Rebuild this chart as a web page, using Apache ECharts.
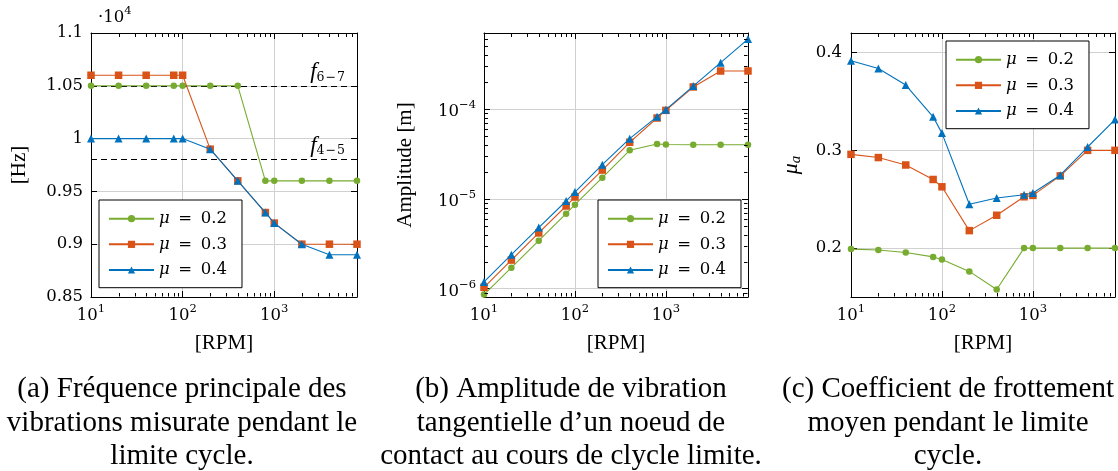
<!DOCTYPE html>
<html>
<head>
<meta charset="utf-8">
<script src="https://cdn.jsdelivr.net/npm/echarts@6/dist/echarts.min.js"></script>
<style>
  html, body { margin: 0; padding: 0; background: #ffffff; }
  #chart { width: 1118px; height: 471px; }
</style>
</head>
<body>
<div id="chart"></div>
<script>
// Rotation speeds [RPM] shared by all three panels
const rpm = [10, 20, 40, 80, 100, 200, 400, 800, 1000, 2000, 4000, 8000];
const muValues = ['0.2', '0.3', '0.4'];

// (a) main vibration frequency, in units of 1e4 Hz
const freqMu02 = [1.05, 1.05, 1.05, 1.05, 1.05, 1.05, 1.05, 0.96, 0.96, 0.96, 0.96, 0.96];
const freqMu03 = [1.06, 1.06, 1.06, 1.06, 1.06, 0.99, 0.96, 0.93, 0.92, 0.90, 0.90, 0.90];
const freqMu04 = [1.00, 1.00, 1.00, 1.00, 1.00, 0.99, 0.96, 0.93, 0.92, 0.90, 0.89, 0.89];
// reference mode frequencies (1e4 Hz) and their subscripts
const modeFreqs = [1.05, 0.98375];
const modeNames = [['6', '7'], ['4', '5']];

// (b) tangential vibration amplitude of a contact node [m]
const ampMu02 = [8.6e-7, 1.71e-6, 3.42e-6, 6.84e-6, 8.6e-6, 1.72e-5, 3.47e-5, 4.07e-5, 4.03e-5, 4.0e-5, 4.0e-5, 4.0e-5];
const ampMu03 = [1.035e-6, 2.08e-6, 4.17e-6, 8.32e-6, 1.047e-5, 2.09e-5, 4.26e-5, 7.94e-5, 9.66e-5, 1.76e-4, 2.65e-4, 2.65e-4];
const ampMu04 = [1.186e-6, 2.39e-6, 4.78e-6, 9.46e-6, 1.19e-5, 2.40e-5, 4.68e-5, 8.22e-5, 9.83e-5, 1.80e-4, 3.28e-4, 6.01e-4];

// (c) mean friction coefficient over the limit cycle
const fricMu02 = [0.199, 0.198, 0.1955, 0.191, 0.1884, 0.1762, 0.1576, 0.2, 0.2, 0.2, 0.2, 0.2];
const fricMu03 = [0.2959, 0.2926, 0.285, 0.2702, 0.2627, 0.2179, 0.2336, 0.2525, 0.2539, 0.2739, 0.3, 0.3];
const fricMu04 = [0.3916, 0.3837, 0.3668, 0.3343, 0.3176, 0.2448, 0.2512, 0.2545, 0.2563, 0.2746, 0.3034, 0.3315];

const captions = [
  ['(a) Fréquence principale des', 'vibrations misurate pendant le', 'limite cycle.'],
  ['(b) Amplitude de vibration', 'tangentielle d’un noeud de', 'contact au cours de clycle limite.'],
  ['(c) Coefficient de frottement', 'moyen pendant le limite', 'cycle.']
];

const FONT_NUM = '"DejaVu Serif", serif';
const FONT_TXT = '"Liberation Serif", "Times New Roman", serif';
const NUM_SIZE = 16.5;
const COLORS = ['#77AC30', '#D95319', '#0072BD'];
const SYMBOLS = ['circle', 'rect', 'triangle'];
const SIZES = [6.5, 7.5, 8];
const GRID_COLOR = '#d0d0d0';
const seriesNames = muValues.map(m => 'μ = ' + m);

const X_MIN = 10, X_MAX = 8000;
const grids = [
  { left: 91, top: 33, width: 266, height: 264 },
  { left: 484, top: 33, width: 264, height: 264 },
  { left: 851, top: 33, width: 265, height: 264 }
];

const supRich = {
  b: { fontFamily: FONT_NUM, fontSize: NUM_SIZE, color: '#000', lineHeight: 25 },
  sup: { fontFamily: FONT_NUM, fontSize: 11.5, color: '#000', lineHeight: 10, verticalAlign: 'top' }
};
function powLabel(v) {
  const e = Math.log10(v);
  const n = Math.round(e);
  if (Math.abs(e - n) > 1e-6) return '';
  return '{b|10}{sup|' + (n < 0 ? '−' + (-n) : String(n)) + '}';
}

const nameStyle = { fontFamily: FONT_TXT, fontSize: 21, color: '#000' };

// bottom/top x axes (log) for a grid
function xAxesFor(gi) {
  const common = {
    type: 'log', logBase: 10, min: X_MIN, max: X_MAX, gridIndex: gi,
    axisLine: { show: true, onZero: false, lineStyle: { color: '#000', width: 1 } },
    axisTick: { show: true, inside: true, length: 6, lineStyle: { color: '#000', width: 1 } },
    axisPointer: { show: false }
  };
  return [
    Object.assign({}, common, {
      position: 'bottom',
      axisLabel: { show: true, margin: 6, formatter: powLabel, rich: supRich, color: '#000' },
      splitLine: { show: true, lineStyle: { color: GRID_COLOR, width: 1 } },
      name: '[RPM]', nameLocation: 'middle', nameGap: 36,
      nameTextStyle: nameStyle
    }),
    Object.assign({}, common, {
      position: 'top',
      axisLabel: { show: false },
      splitLine: { show: false }
    })
  ];
}

function yAxesFor(gi, base) {
  const common = Object.assign({
    gridIndex: gi,
    axisLine: { show: true, onZero: false, lineStyle: { color: '#000', width: 1 } },
    axisTick: { show: true, inside: true, length: 6, lineStyle: { color: '#000', width: 1 } },
    axisPointer: { show: false }
  }, base.scale);
  return [
    Object.assign({}, common, {
      position: 'left',
      axisLabel: Object.assign({ show: true, margin: 8, color: '#000', fontFamily: FONT_NUM, fontSize: NUM_SIZE }, base.label),
      splitLine: { show: true, lineStyle: { color: GRID_COLOR, width: 1 } }
    }, base.name),
    Object.assign({}, common, {
      position: 'right',
      axisLabel: { show: false },
      splitLine: { show: false }
    })
  ];
}

const yAxisDefs = [
  {
    scale: { type: 'value', min: 0.85, max: 1.1, interval: 0.05 },
    label: { formatter: v => String(Math.round(v * 100) / 100) },
    name: { name: '[Hz]', nameLocation: 'middle', nameGap: 61, nameTextStyle: nameStyle }
  },
  {
    scale: { type: 'log', logBase: 10, min: 8.07e-7, max: 7.02e-4 },
    label: { formatter: powLabel, rich: supRich, padding: [6, 0, 0, 0] },
    name: { name: 'Amplitude [m]', nameLocation: 'middle', nameGap: 68, nameTextStyle: nameStyle }
  },
  {
    scale: { type: 'value', min: 0.15, max: 0.42, minInterval: 0.1, maxInterval: 0.1 },
    label: {
      margin: 9,
      formatter: v => (Math.abs(v * 10 - Math.round(v * 10)) < 1e-6 ? v.toFixed(1) : '')
    },
    name: {
      name: '{i|μ}{s|a}', nameLocation: 'middle', nameGap: 47,
      nameTextStyle: {
        fontFamily: FONT_TXT, fontSize: 21, color: '#000',
        rich: {
          i: { fontFamily: FONT_TXT, fontStyle: 'italic', fontSize: 22, lineHeight: 26, color: '#000' },
          s: { fontFamily: FONT_TXT, fontStyle: 'italic', fontSize: 15, lineHeight: 16, verticalAlign: 'bottom', color: '#000' }
        }
      }
    }
  }
];

const xAxis = [], yAxis = [];
grids.forEach((g, gi) => {
  xAxis.push(...xAxesFor(gi));
  yAxis.push(...yAxesFor(gi, yAxisDefs[gi]));
});

function lineSeries(gi, k, values, extra) {
  return Object.assign({
    type: 'line', name: seriesNames[k],
    xAxisIndex: gi * 2, yAxisIndex: gi * 2,
    data: rpm.map((x, i) => [x, values[i]]),
    symbol: SYMBOLS[k], symbolSize: SIZES[k], showSymbol: true,
    clip: false, animation: false, silent: true,
    lineStyle: { color: COLORS[k], width: 1.1 },
    itemStyle: { color: COLORS[k], borderWidth: 0 },
    z: 5 + k
  }, extra || {});
}

// minor log ticks (2..9 x 10^n) drawn along the plot frame
function minorValues(lo, hi) {
  const out = [];
  for (let e = Math.floor(Math.log10(lo)); e <= Math.ceil(Math.log10(hi)); e++) {
    for (let m = 2; m <= 9; m++) {
      const v = m * Math.pow(10, e);
      if (v > lo * 1.0001 && v < hi * 0.9999) out.push(v);
    }
  }
  return out;
}
function minorTickSeries(gi, yRef, yLog) {
  const xm = minorValues(X_MIN, X_MAX);
  const ym = yLog ? minorValues(yLog[0], yLog[1]) : [];
  const L = 3.5;
  return {
    type: 'custom', xAxisIndex: gi * 2, yAxisIndex: gi * 2,
    data: [[X_MIN, yRef]], silent: true, clip: false, animation: false, z: 8,
    renderItem(params, api) {
      const cs = params.coordSys;
      const top = Math.round(cs.y) + 0.5, bottom = Math.round(cs.y + cs.height) - 0.5;
      const left = Math.round(cs.x) + 0.5, right = Math.round(cs.x + cs.width) - 0.5;
      const st = { stroke: '#000', lineWidth: 1 };
      const children = [];
      xm.forEach(v => {
        const px = Math.round(api.coord([v, yRef])[0]) + 0.5;
        children.push({ type: 'line', shape: { x1: px, y1: bottom, x2: px, y2: bottom - L }, style: st });
        children.push({ type: 'line', shape: { x1: px, y1: top, x2: px, y2: top + L }, style: st });
      });
      ym.forEach(v => {
        const py = Math.round(api.coord([X_MIN, v])[1]) + 0.5;
        children.push({ type: 'line', shape: { x1: left, y1: py, x2: left + L, y2: py }, style: st });
        children.push({ type: 'line', shape: { x1: right, y1: py, x2: right - L, y2: py }, style: st });
      });
      return { type: 'group', children };
    }
  };
}

const series = [
  lineSeries(0, 0, freqMu02, {
    markLine: {
      silent: true, symbol: 'none', animation: false,
      lineStyle: { color: '#000', width: 1, type: [6, 4] },
      label: {
        show: true, position: 'insideEndTop', distance: [12, 2], color: '#000',
        rich: {
          f: { fontFamily: FONT_TXT, fontStyle: 'italic', fontSize: 23, lineHeight: 24, color: '#000' },
          s: { fontFamily: FONT_NUM, fontSize: 12.5, lineHeight: 19, verticalAlign: 'bottom', color: '#000' },
          m: { fontFamily: FONT_NUM, fontSize: 12.5, lineHeight: 19, verticalAlign: 'bottom', color: '#000', padding: [0, 1, 0, 1] }
        }
      },
      data: modeFreqs.map((v, i) => ({
        yAxis: v,
        label: { formatter: '{f|f}{s|' + modeNames[i][0] + '}{m|−}{s|' + modeNames[i][1] + '}' }
      }))
    }
  }),
  lineSeries(0, 1, freqMu03),
  lineSeries(0, 2, freqMu04),
  lineSeries(1, 0, ampMu02),
  lineSeries(1, 1, ampMu03),
  lineSeries(1, 2, ampMu04),
  lineSeries(2, 0, fricMu02),
  lineSeries(2, 1, fricMu03),
  lineSeries(2, 2, fricMu04),
  minorTickSeries(0, 1.0),
  minorTickSeries(1, 1e-5, [8.07e-7, 7.02e-4]),
  minorTickSeries(2, 0.3)
];

function legendAt(left, top) {
  return {
    left, top, orient: 'vertical', data: seriesNames,
    itemWidth: 45, itemHeight: 9, itemGap: 5.65,
    padding: [8.7, 15, 7.7, 9],
    borderColor: '#000', borderWidth: 1, borderRadius: 0, backgroundColor: '#fff',
    selectedMode: false, z: 20,
    formatter: n => '{i|μ}{e|=}{n|' + n.split('= ')[1] + '}',
    textStyle: {
      fontFamily: FONT_NUM, fontSize: NUM_SIZE, color: '#000', lineHeight: 20,
      rich: {
        i: { fontFamily: FONT_NUM, fontStyle: 'italic', fontSize: NUM_SIZE, lineHeight: 20, color: '#000' },
        e: { fontFamily: FONT_NUM, fontSize: NUM_SIZE, lineHeight: 20, color: '#000', padding: [0, 8.6, 0, 8.6] },
        n: { fontFamily: FONT_NUM, fontSize: NUM_SIZE, lineHeight: 20, color: '#000' }
      }
    }
  };
}

const graphic = captions.map((lines, p) => ({
  type: 'text', silent: true,
  style: {
    text: lines.join('\n'),
    x: [182, 571, 948][p], y: 373,
    align: 'center', verticalAlign: 'top',
    fontFamily: FONT_TXT, fontSize: 29, lineHeight: 33.5, fill: '#000'
  }
}));
// ·10^4 scale factor of panel (a)
graphic.push({
  type: 'text', silent: true,
  style: {
    text: '{b|·10}{sup|4}', x: 98, y: 30.5, align: 'left', verticalAlign: 'bottom',
    fill: '#000',
    rich: {
      b: { fontFamily: FONT_NUM, fontSize: NUM_SIZE, lineHeight: 25, fill: '#000' },
      sup: { fontFamily: FONT_NUM, fontSize: 11.5, lineHeight: 10, verticalAlign: 'top', fill: '#000' }
    }
  }
});

const chart = echarts.init(document.getElementById('chart'), null, { renderer: 'canvas' });
chart.setOption({
  animation: false,
  backgroundColor: '#ffffff',
  textStyle: { fontFamily: FONT_TXT },
  grid: grids.map(g => Object.assign({ containLabel: false }, g)),
  xAxis, yAxis, series,
  legend: [legendAt(99, 200), legendAt(598, 200), legendAt(946, 41)],
  graphic
});
</script>
</body>
</html>
